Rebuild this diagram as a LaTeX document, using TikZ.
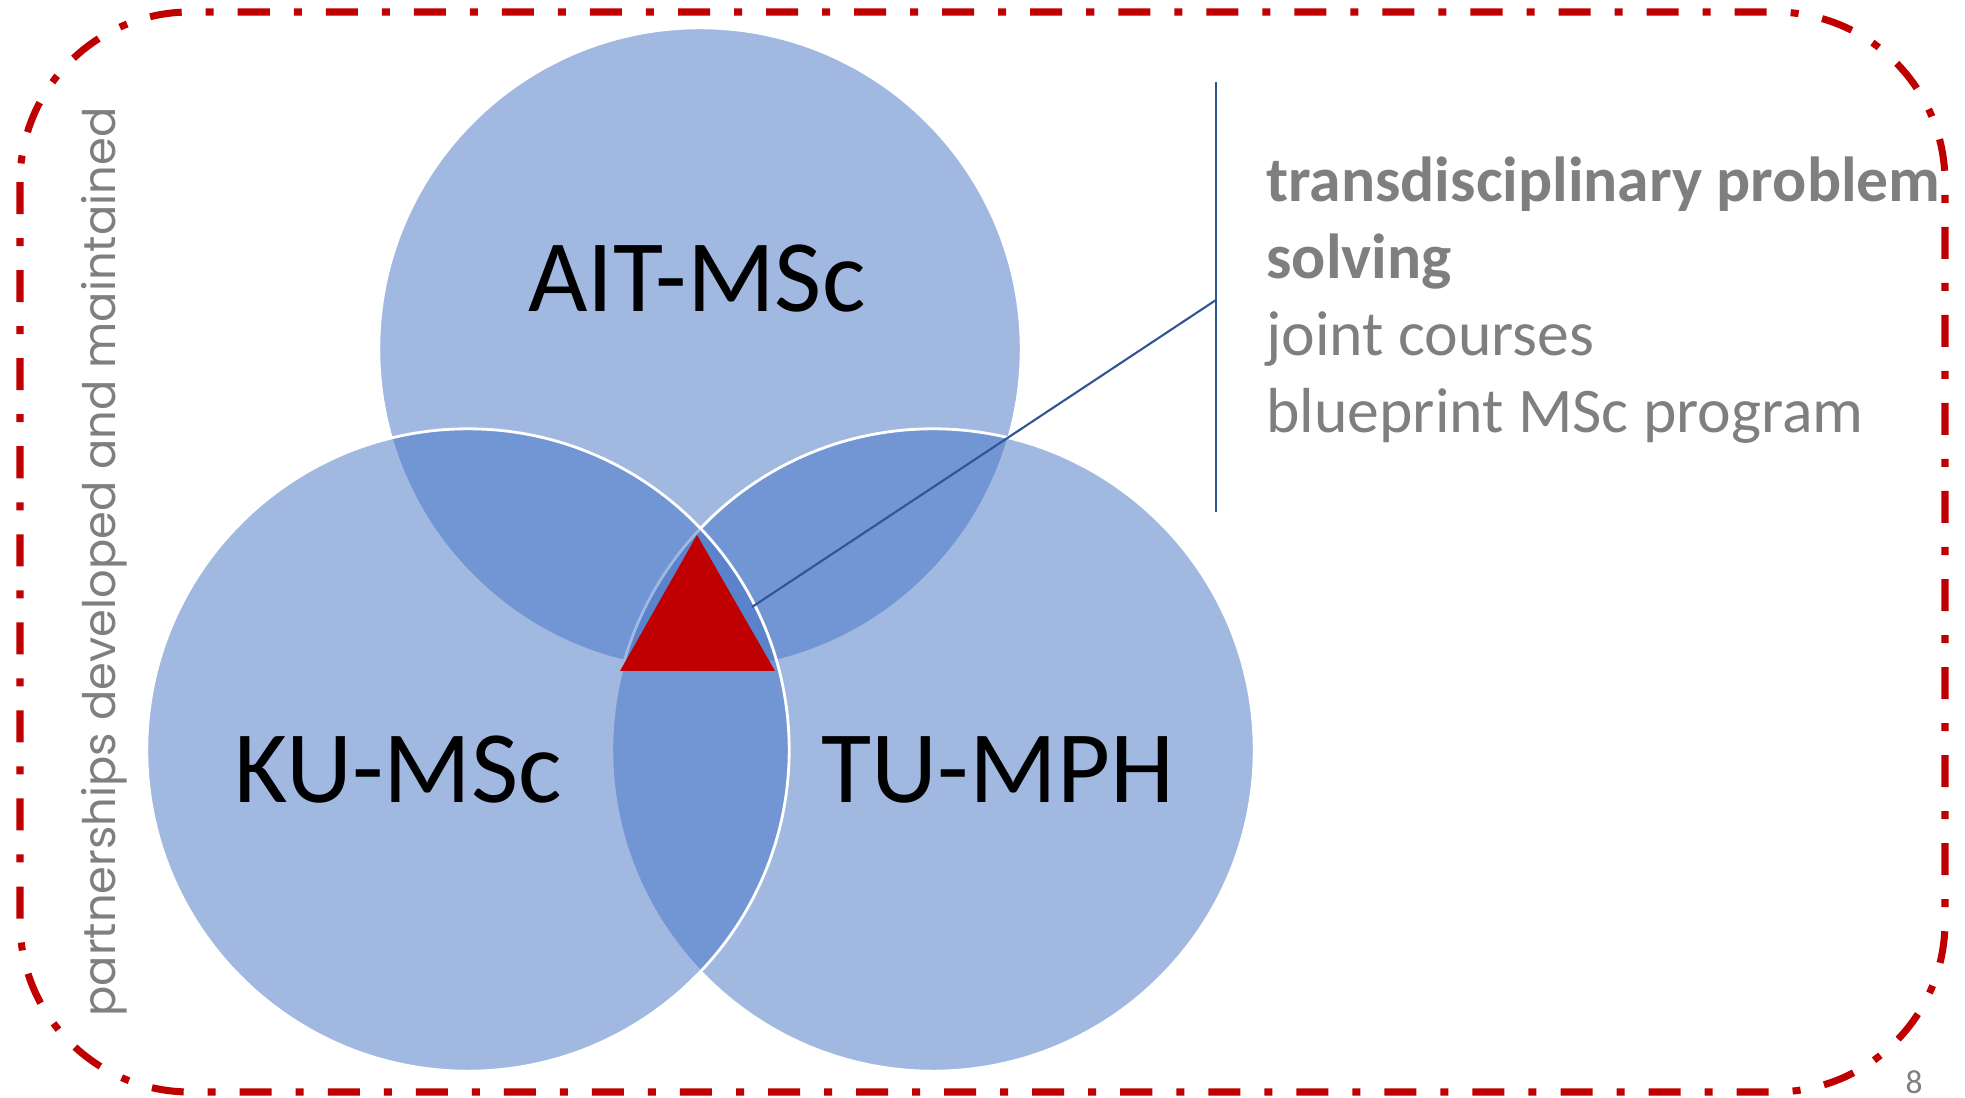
\documentclass[tikz,border=0pt]{standalone}
\usepackage{fontspec}
\setmainfont{Carlito}
\newfontfamily\sidefont{Poppins}
\definecolor{vennblue}{HTML}{4472C4}
\definecolor{linkblue}{HTML}{2F5597}
\definecolor{framered}{HTML}{C00000}
\definecolor{txtgray}{HTML}{7F7F7F}
\begin{document}
\begin{tikzpicture}[x=0.01cm,y=-0.01cm,
  venn/.style={circle,minimum size=6.42cm,inner sep=0pt,fill=vennblue,fill opacity=0.5,draw=white,line width=0.8pt},
  lab/.style={anchor=base,font=\fontsize{29.2}{35}\selectfont},
  point/.style={anchor=base west,text=txtgray,font=\fontsize{18.1}{22}\selectfont}]
\useasboundingbox (0,0) rectangle (1965,1098);
\draw [framered, line width=2pt, rounded corners=1.7cm, dash pattern=on 0.32cm off 0.24cm on 0.08cm off 0.24cm] (20,12) rectangle (1945,1092);
\node (ait) at (700,349) [venn] {};
\node (tu) at (933,750) [venn] {};
\node (ku) at (468,750) [venn] {};
\fill [framered] (697,535) -- (775,671) -- (620,671) -- cycle;
\node (aitlab) at (697,312) [lab] {AIT-MSc};
\node (kulab) at (398,803) [lab] {KU-MSc};
\node (tulab) at (998,803) [lab] {TU-MPH};
\coordinate (tip) at (752,607);
\coordinate (bartop) at (1216,82);
\coordinate (barmid) at (1216,300);
\coordinate (barbot) at (1216,512);
\draw [linkblue, line width=0.6pt] (tip) -- (barmid);
\draw [linkblue, line width=0.6pt] (bartop) -- (barbot);
\node (p1) at (1254,202) [point,font=\fontsize{18.1}{22}\selectfont\bfseries] {transdisciplinary problem};
\node (p2) at (1254,279) [point,font=\fontsize{18.1}{22}\selectfont\bfseries] {solving};
\node (p3) at (1254,356) [point] {joint courses};
\node (p4) at (1254,433) [point] {blueprint MSc program};
\node (side) at (116,562) [rotate=90,anchor=base,text=txtgray,font=\sidefont\fontsize{12.75}{15}\selectfont] {partnerships developed and maintained};
\node (page) at (1914,1094) [anchor=base,inner sep=0pt,text=txtgray,font=\fontsize{9.5}{11}\selectfont] {8};
\end{tikzpicture}
\end{document}
